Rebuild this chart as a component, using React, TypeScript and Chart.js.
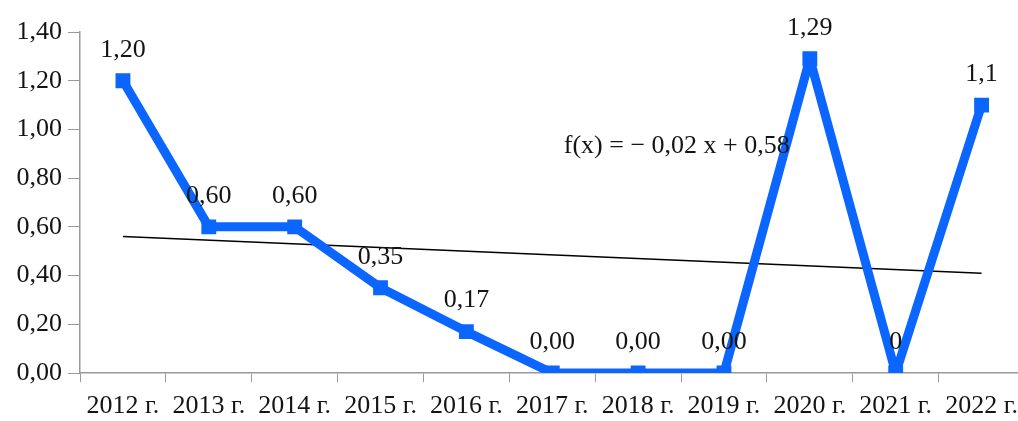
import React, { useEffect, useRef } from "react";
import { Chart, registerables } from "chart.js";

Chart.register(...registerables);

const categories = ["2012 г.", "2013 г.", "2014 г.", "2015 г.", "2016 г.", "2017 г.", "2018 г.", "2019 г.", "2020 г.", "2021 г.", "2022 г."];
const values = [1.2, 0.6, 0.6, 0.35, 0.17, 0, 0, 0, 1.29, 0, 1.1];
const pointLabels = ["1,20", "0,60", "0,60", "0,35", "0,17", "0,00", "0,00", "0,00", "1,29", "0", "1,1"];
const trendValues = [0.56, null, null, null, null, null, null, null, null, null, 0.41];
const trendEquation = "f(x) = − 0,02 x + 0,58";

const FONT = "'Liberation Serif', 'Times New Roman', serif";
const FONT_SIZE = 26;
const AXIS_COLOR = "#9a9a9a";
const TEXT_COLOR = "#141414";

const labelsPlugin = {
  id: "pointLabels",
  afterDatasetsDraw(chart: any) {
    const ctx = chart.ctx;
    const meta = chart.getDatasetMeta(0);
    ctx.save();
    ctx.font = `${FONT_SIZE}px ${FONT}`;
    ctx.fillStyle = TEXT_COLOR;
    ctx.textAlign = "center";
    ctx.textBaseline = "middle";
    meta.data.forEach((el: any, i: number) => {
      ctx.fillText(pointLabels[i], el.x, el.y - 31);
    });
    const xs = chart.scales.x;
    const ys = chart.scales.y;
    ctx.fillText(trendEquation, xs.getPixelForValue(6.45), ys.getPixelForValue(0.93));
    ctx.restore();
  },
};

export default function App() {
  const ref = useRef<HTMLCanvasElement | null>(null);
  useEffect(() => {
    if (!ref.current) return;
    const chart = new Chart(ref.current, {
      type: "line",
      data: {
        labels: categories,
        datasets: [
          {
            data: values,
            borderColor: "#0a66ff",
            backgroundColor: "#0a66ff",
            borderWidth: 9,
            borderJoinStyle: "bevel",
            pointStyle: "rect",
            pointRadius: 10.5,
            pointBorderWidth: 0,
            tension: 0,
            order: 0,
          },
          {
            data: trendValues as any,
            borderColor: "#000000",
            borderWidth: 1.5,
            pointRadius: 0,
            spanGaps: true,
            order: 1,
          },
        ],
      },
      options: {
        animation: false,
        responsive: false,
        devicePixelRatio: 1,
        layout: { padding: { top: 32, right: 6, left: 0, bottom: 0 } },
        plugins: { legend: { display: false }, tooltip: { enabled: false } },
        scales: {
          x: {
            type: "category",
            offset: true,
            afterFit: (s: any) => {
              s.height = 48;
            },
            grid: { offset: true, drawOnChartArea: false, drawTicks: true, tickLength: 9, color: AXIS_COLOR },
            border: { color: AXIS_COLOR, width: 1.5 },
            ticks: { font: { family: FONT, size: FONT_SIZE }, color: TEXT_COLOR, padding: 9, maxRotation: 0, autoSkip: false },
          },
          y: {
            min: 0,
            max: 1.4,
            afterFit: (s: any) => {
              s.width = 80;
            },
            grid: { drawOnChartArea: false, drawTicks: true, tickLength: 12, color: AXIS_COLOR },
            border: { color: AXIS_COLOR, width: 1.5 },
            ticks: {
              stepSize: 0.2,
              font: { family: FONT, size: FONT_SIZE },
              color: TEXT_COLOR,
              padding: 6,
              callback: (v: any) => Number(v).toFixed(2).replace(".", ","),
            },
          },
        },
      },
      plugins: [labelsPlugin],
    });
    return () => chart.destroy();
  }, []);
  return (
    <div style={{ position: "fixed", left: 0, top: 0, width: 1018, height: 421, overflow: "hidden", background: "#fff" }}>
      <canvas ref={ref} width={1035} height={421} style={{ width: 1035, height: 421, display: "block" }} />
    </div>
  );
}
